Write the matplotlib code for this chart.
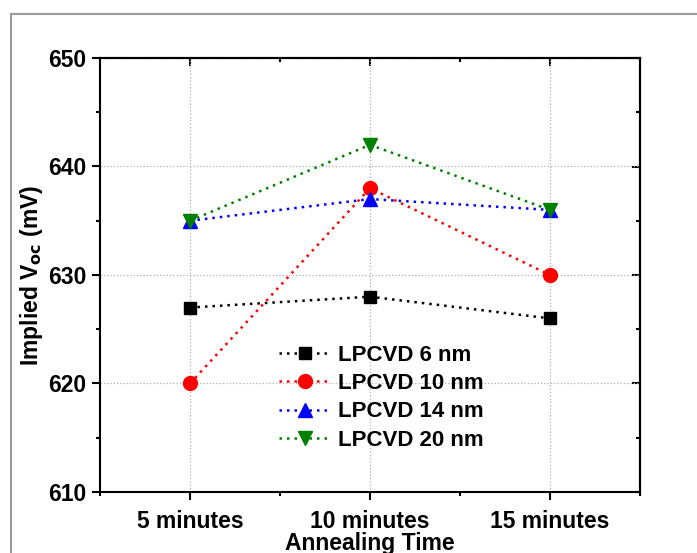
import matplotlib
matplotlib.use('Agg')
import matplotlib.pyplot as plt
from matplotlib.lines import Line2D
from matplotlib.ticker import MultipleLocator

plt.rcParams['font.family'] = ['Liberation Sans', 'DejaVu Sans']
plt.rcParams['font.weight'] = 'bold'

times = ['5 minutes', '10 minutes', '15 minutes']
labels = ['LPCVD 6 nm', 'LPCVD 10 nm', 'LPCVD 14 nm', 'LPCVD 20 nm']
voc_6nm = [627, 628, 626]
voc_10nm = [620, 638, 630]
voc_14nm = [635, 637, 636]
voc_20nm = [635, 642, 636]

series = [voc_6nm, voc_10nm, voc_14nm, voc_20nm]
colors = ['black', 'red', 'blue', 'green']
markers = ['s', 'o', '^', 'v']
msizes = [8.5, 10, 10, 10.5]

fig = plt.figure(figsize=(6.97, 5.53), dpi=100)
ax = fig.add_axes([100/697, 1 - 492/553, 540/697, 434/553])

x = list(range(len(times)))
for vals, c, m, ms, lab in zip(series, colors, markers, msizes, labels):
	ax.plot(x, vals, color=c, marker=m, markersize=ms, linestyle=(0, (1, 2)),
		lw=1.8, label=lab, zorder=3)

ax.set_xlim(-0.5, 2.5)
ax.set_ylim(610, 650)
ax.set_xticks(x)
ax.set_xticklabels(times)
ax.xaxis.set_minor_locator(MultipleLocator(0.5))
ax.yaxis.set_major_locator(MultipleLocator(10))
ax.yaxis.set_minor_locator(MultipleLocator(5))
ax.grid(True, which='major', ls=':', color='#b0b0b0', lw=0.9)

ax.tick_params(which='major', direction='out', length=6, width=1.5, labelsize=16.5,
	top=False, right=False)
ax.tick_params(axis='x', which='major', pad=7)
ax.tick_params(axis='y', which='major', pad=4)
ax.tick_params(which='minor', direction='out', length=3, width=1.5, top=False, right=False)
# mirrored inward ticks on top/right
ax2 = ax.secondary_xaxis('top')
ax2.set_xticks(x)
ax2.xaxis.set_minor_locator(MultipleLocator(0.5))
ax2.tick_params(which='both', direction='in', labeltop=False, width=1.5)
ax2.tick_params(which='major', length=6)
ax2.tick_params(which='minor', length=3)
ay2 = ax.secondary_yaxis('right')
ay2.yaxis.set_major_locator(MultipleLocator(10))
ay2.yaxis.set_minor_locator(MultipleLocator(5))
ay2.tick_params(which='both', direction='in', labelright=False, width=1.5)
ay2.tick_params(which='major', length=6)
ay2.tick_params(which='minor', length=3)
for sp in list(ax.spines.values()) + list(ax2.spines.values()) + list(ay2.spines.values()):
	sp.set_linewidth(1.5)

for t in ax.get_xticklabels() + ax.get_yticklabels():
	t.set_fontweight('bold')

ax.set_xlabel('Annealing Time', fontsize=16.5, fontweight='bold', labelpad=-1)
ax.set_ylabel('Implied V$_{\\mathbf{oc}}$ (mV)', fontsize=16.5, fontweight='bold', labelpad=2)

ax.legend(loc='upper left', bbox_to_anchor=(0.315, 0.36), frameon=False,
	handlelength=2.3, handletextpad=0.35, labelspacing=0.33,
	borderaxespad=0, prop={'weight': 'bold', 'size': 16})

# figure frame (top and left edges visible)
fig.add_artist(Line2D([11/697, 1], [1 - 14/553, 1 - 14/553], color='#999999', lw=1.5,
	transform=fig.transFigure))
fig.add_artist(Line2D([11/697, 11/697], [0, 1 - 14/553], color='#999999', lw=1.5,
	transform=fig.transFigure))

fig.savefig('out.png', dpi=100)
